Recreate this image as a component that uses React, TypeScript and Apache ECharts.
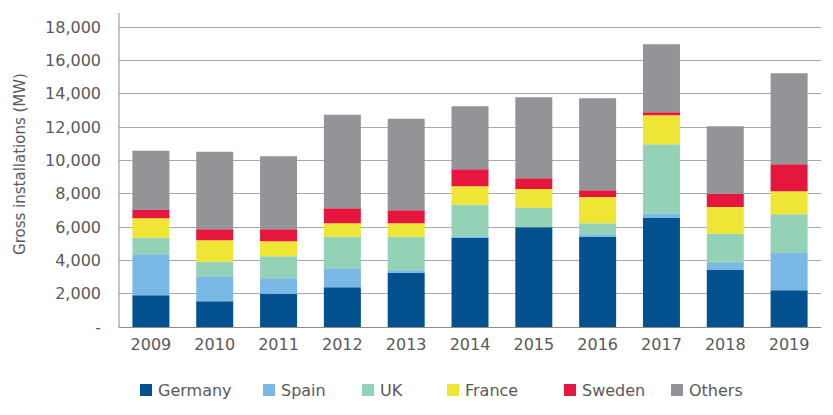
import { useEffect, useRef } from "react";
import * as echarts from "echarts";

const YEARS = ["2009", "2010", "2011", "2012", "2013", "2014", "2015", "2016", "2017", "2018", "2019"];

const GERMANY = [1900, 1540, 2000, 2380, 3240, 5340, 5980, 5400, 6540, 3420, 2200];
const SPAIN = [2460, 1500, 920, 1140, 160, 100, 0, 120, 260, 420, 2240];
const UK = [1000, 880, 1320, 1900, 2020, 1900, 1180, 700, 4160, 1760, 2320];
const FRANCE = [1160, 1280, 900, 800, 800, 1100, 1120, 1580, 1740, 1600, 1380];
const SWEDEN = [500, 660, 720, 900, 780, 1020, 640, 400, 180, 780, 1620];
const OTHERS = [3560, 4660, 4380, 5620, 5500, 3780, 4860, 5520, 4080, 4060, 5460];

const SERIES = [
  { name: "Germany", data: GERMANY, color: "#03528f" },
  { name: "Spain", data: SPAIN, color: "#7ab8e6" },
  { name: "UK", data: UK, color: "#93d2b6" },
  { name: "France", data: FRANCE, color: "#efe534" },
  { name: "Sweden", data: SWEDEN, color: "#e6173f" },
  { name: "Others", data: OTHERS, color: "#939497" },
];

const LEGEND_LEFT = [135, 258, 357, 442, 559, 666];

const FONT = "'DejaVu Sans', sans-serif";
const TEXT_COLOR = "#58595b";

const GRID = { left: 119, right: 12, top: 27, bottom: 88 };

export default function App() {
  const rootRef = useRef<HTMLDivElement | null>(null);

  useEffect(() => {
    document.body.style.margin = "0";
    if (!rootRef.current) {
      return;
    }
    const chart = echarts.init(rootRef.current, undefined, { renderer: "svg" });

    chart.setOption({
      animation: false,
      backgroundColor: "#ffffff",
      grid: { ...GRID, containLabel: false },
      legend: SERIES.map((s, i) => ({
        data: [s.name],
        left: LEGEND_LEFT[i],
        top: 377,
        itemWidth: 12,
        itemHeight: 12,
        itemGap: 0,
        icon: "rect",
        selectedMode: false,
        textStyle: { color: TEXT_COLOR, fontSize: 16, fontFamily: FONT, padding: [0, 0, 0, 1] },
      })),
      xAxis: {
        type: "category",
        data: YEARS,
        axisTick: { show: false },
        axisLine: { lineStyle: { color: "#8c8c8c", width: 1 } },
        axisLabel: { color: TEXT_COLOR, fontSize: 16, fontFamily: FONT, margin: 9 },
      },
      yAxis: {
        type: "value",
        min: 0,
        max: 18000,
        interval: 2000,
        axisLine: { show: false },
        axisTick: { show: false },
        splitLine: { lineStyle: { color: "#a9a9a9", width: 1 } },
        axisLabel: {
          color: TEXT_COLOR,
          fontSize: 16,
          fontFamily: FONT,
          margin: 18,
          formatter: (v: number) => (v === 0 ? "-" : v.toLocaleString("en-US")),
        },
      },
      graphic: [
        {
          type: "line",
          silent: true,
          shape: { x1: GRID.left, y1: 13, x2: GRID.left, y2: 415 - GRID.bottom },
          style: { stroke: "#8c8c8c", lineWidth: 1 },
          z: 10,
        },
        {
          type: "text",
          silent: true,
          x: 20,
          y: 164,
          rotation: Math.PI / 2,
          style: {
            text: "Gross installations (MW)",
            fill: TEXT_COLOR,
            font: `15px ${FONT}`,
            align: "center",
            verticalAlign: "middle",
          },
        },
      ],
      series: SERIES.map((s) => ({
        name: s.name,
        type: "bar",
        stack: "total",
        data: s.data,
        barWidth: 37,
        itemStyle: { color: s.color },
      })),
    });

    return () => {
      chart.dispose();
    };
  }, []);

  return <div ref={rootRef} style={{ width: 833, height: 415 }} />;
}
